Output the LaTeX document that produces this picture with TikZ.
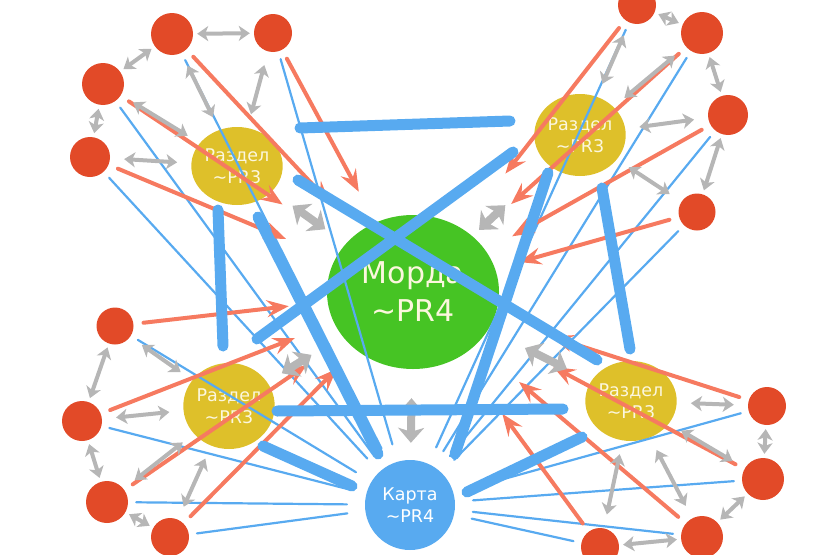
\documentclass[tikz,border=0pt]{standalone}
\usepackage{fontspec}
\setmainfont{DejaVu Sans}
\usetikzlibrary{arrows.meta,calc,shapes.geometric}

\definecolor{pagered}{RGB}{226,74,40}
\definecolor{razdelyellow}{RGB}{222,192,42}
\definecolor{razdeltext}{RGB}{252,247,222}
\definecolor{mordagreen}{RGB}{70,196,36}
\definecolor{linkblue}{RGB}{88,170,240}
\definecolor{flowred}{RGB}{246,122,96}
\definecolor{hopgray}{RGB}{182,182,182}

\begin{document}
\begin{tikzpicture}[x=1pt, y=-1pt, line cap=round, line join=round,
  pagedot/.style={circle, fill=pagered, minimum size=40pt, inner sep=0pt},
  sectionnode/.style={ellipse, fill=razdelyellow, inner sep=0pt, align=center,
    text=razdeltext, font=\fontsize{17.5}{22}\selectfont},
  mainnode/.style={ellipse, fill=mordagreen, inner sep=0pt, align=center,
    minimum width=172pt, minimum height=154pt, text=razdeltext,
    font=\fontsize{30}{38}\selectfont},
  mapnode/.style={circle, fill=linkblue, inner sep=0pt, minimum size=90pt,
    align=center, text=white, font=\fontsize{17.5}{22}\selectfont},
  maplink/.style={draw=linkblue, line width=2.2pt, shorten <=8pt, shorten >=18pt},
  flow/.style={draw=flowred, line width=4pt, shorten <=10pt,
    -{Stealth[length=22pt,width=17pt,inset=8pt]}},
  hop/.style={draw=hopgray, line width=4pt,
    {Stealth[length=11pt,width=15pt,inset=3pt]}-{Stealth[length=11pt,width=15pt,inset=3pt]}},
  bighop/.style={draw=hopgray, line width=8pt,
    {Stealth[length=15pt,width=26pt,inset=4pt]}-{Stealth[length=15pt,width=26pt,inset=4pt]}},
  bond/.style={draw=linkblue, line width=11pt, line cap=round}]

\useasboundingbox (0,0) rectangle (813,554);

% main pages
\node[mainnode] (morda) at (413,292) {Морда\\\textasciitilde PR4};
\node[mapnode] (karta) at (410,505) {Карта\\\textasciitilde PR4};

% sections
\node[sectionnode, minimum width=88pt, minimum height=78pt] (rtl) at (237,166) {Раздел\\\textasciitilde PR3};
\node[sectionnode, minimum width=82pt, minimum height=82pt] (rtr) at (580,135) {Раздел\\\textasciitilde PR3};
\node[sectionnode, minimum width=80pt, minimum height=86pt] (rbl) at (229,406) {Раздел\\\textasciitilde PR3};
\node[sectionnode, minimum width=88pt, minimum height=80pt] (rbr) at (631,401) {Раздел\\\textasciitilde PR3};

% pages
\node[pagedot, minimum size=42pt] (tl1) at (172,34) {};
\node[pagedot, minimum size=38pt] (tl2) at (273,33) {};
\node[pagedot, minimum size=42pt] (tl3) at (103,84) {};
\node[pagedot] (tl4) at (90,157) {};
\node[pagedot, minimum size=38pt] (tr1) at (637,5) {};
\node[pagedot, minimum size=42pt] (tr2) at (702,33) {};
\node[pagedot] (tr3) at (728,115) {};
\node[pagedot, minimum size=37pt] (tr4) at (697,212) {};
\node[pagedot, minimum size=37pt] (bl1) at (115,326) {};
\node[pagedot] (bl2) at (82,421) {};
\node[pagedot, minimum size=42pt] (bl3) at (107,502) {};
\node[pagedot, minimum size=38pt] (bl4) at (170,537) {};
\node[pagedot, minimum size=38pt] (br1) at (767,406) {};
\node[pagedot, minimum size=42pt] (br2) at (763,479) {};
\node[pagedot, minimum size=42pt] (br3) at (702,537) {};
\node[pagedot, minimum size=38pt] (br4) at (600,547) {};

% links to the map
\foreach \p in {tl1,tl2,tl3,tl4,tr1,tr2,tr3,tr4,bl1,bl2,bl3,bl4,br1,br2,br3,br4}
  \draw[maplink] (\p) -- (karta);

% weight flow to the front page
\foreach \p/\s in {tl1/41pt,tl2/35pt,tl3/74pt,tl4/53pt,tr1/70pt,tr2/50pt,tr3/30pt,tr4/25pt,
    bl1/39pt,bl2/42pt,bl3/46pt,bl4/27pt,br1/60pt,br2/75pt,br3/57pt,br4/71pt}
  \draw[flow, shorten >=\s] (\p) -- (morda);

% rings of pages
\foreach \a/\b in {tl4/tl3,tl3/tl1,tl1/tl2,tr1/tr2,tr2/tr3,tr3/tr4,
    bl1/bl2,bl2/bl3,bl3/bl4,br1/br2,br2/br3,br3/br4}
  \draw[hop, shorten <=4pt, shorten >=4pt] (\a) -- (\b);
\foreach \p/\r in {tl1/rtl,tl2/rtl,tl3/rtl,tl4/rtl,tr1/rtr,tr2/rtr,tr3/rtr,tr4/rtr,
    bl1/rbl,bl2/rbl,bl3/rbl,bl4/rbl,br1/rbr,br2/rbr,br3/rbr,br4/rbr}
  \draw[hop, shorten <=14pt, shorten >=14pt] (\p) -- (\r);

\draw[bighop, shorten <=25pt, shorten >=25pt] (rtl) -- (morda);
\draw[bighop, shorten <=59pt, shorten >=9pt] (rtr) -- (morda);
\draw[bighop, shorten <=17pt, shorten >=36pt] (rbl) -- (morda);
\draw[bighop, shorten <=27pt, shorten >=41pt] (rbr) -- (morda);
\draw[bighop, shorten <=17pt, shorten >=29pt] (karta) -- (morda);

% section links
\draw[bond] ($(rtl)+(63,-38)$) -- ($(rtr)+(-70,-14)$);
\draw[bond] ($(rtl)+(61,14)$) -- ($(rbr)+(-34,-41)$);
\draw[bond] ($(rtr)+(-67,17)$) -- ($(rbl)+(28,-67)$);
\draw[bond] ($(rtl)+(-19,44)$) -- ($(rbl)+(-6,-60)$);
\draw[bond] ($(rtr)+(22,53)$) -- ($(rbr)+(-1,-52)$);
\draw[bond] ($(rbl)+(48,5)$) -- ($(rbr)+(-68,8)$);
\draw[bond] ($(rtl)+(21,51)$) -- ($(karta)+(-32,-51)$);
\draw[bond] ($(rtr)+(-32,38)$) -- ($(karta)+(45,-51)$);
\draw[bond] ($(rbl)+(34,40)$) -- ($(karta)+(-58,-19)$);
\draw[bond] ($(rbr)+(-49,36)$) -- ($(karta)+(57,-13)$);

\end{tikzpicture}
\end{document}
